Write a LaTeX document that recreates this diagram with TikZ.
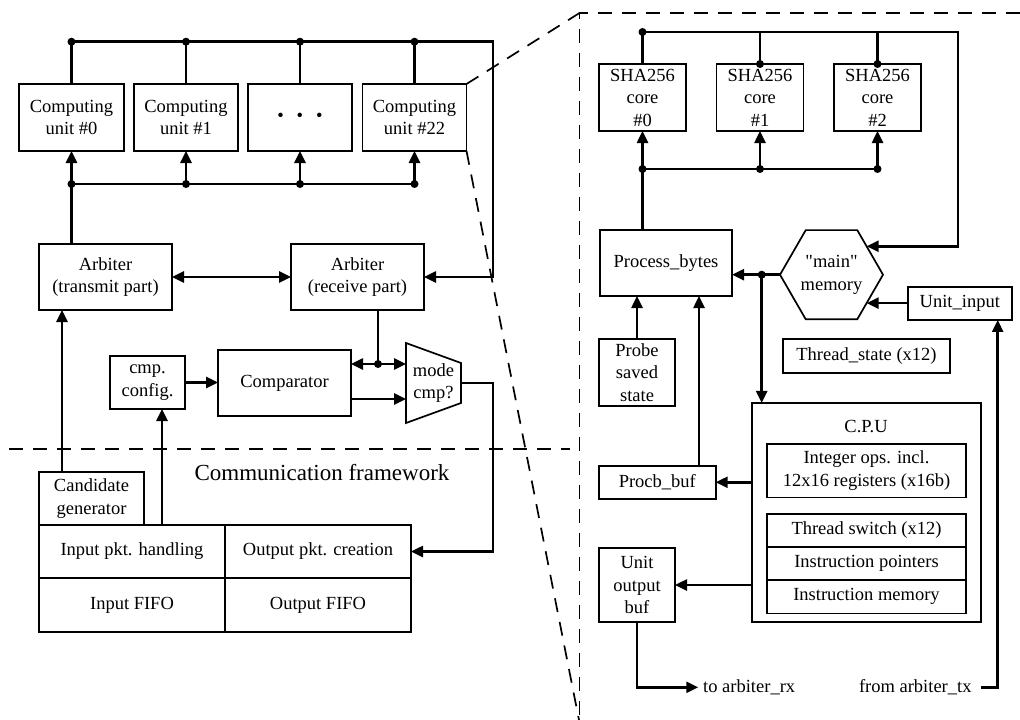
\documentclass[tikz,border=0pt]{standalone}
\usepackage{fontspec}
\setmainfont{Liberation Serif}
\usetikzlibrary{arrows.meta,shapes.geometric,calc}

\begin{document}
\begin{tikzpicture}[x=1pt,y=-1pt,
  txt/.style={font=\fontsize{18.5}{22.5}\selectfont},
  blk/.style={txt, draw, line width=1.7pt, inner sep=0pt, outer sep=0pt, align=center},
  wire/.style={line width=2.5pt},
  tip/.tip={Triangle[length=12pt,width=11pt]},
  arr/.style={wire, -tip},
  darr/.style={wire, tip-tip},
  zoomline/.style={line width=1.7pt, dash pattern=on 14pt off 10pt},
  cu/.style={blk, minimum width=104pt, minimum height=67pt},
  arb/.style={blk, minimum width=133pt, minimum height=66pt},
  sha/.style={blk, minimum width=87pt, minimum height=67pt},
  half/.style={blk, minimum width=186pt, minimum height=53.5pt},
  sub/.style={blk, minimum width=199pt, minimum height=33.3pt}
]
\useasboundingbox (0,0) rectangle (1020,720);

% ---------------- communication side ----------------
\node[cu, minimum width=105pt] (cu0) at (71.5,117.5) {Computing\\unit \#0};
\node[cu] (cu1) at (186,117.5) {Computing\\unit \#1};
\node[cu] (cu2) at (300,117.5) {\textbullet\hspace{13pt}\textbullet\hspace{13pt}\textbullet};
\node[cu] (cu3) at (414.5,117.5) {Computing\\unit \#22};

\node[arb] (arbtx) at (105.5,277) {Arbiter\\(transmit part)};
\node[arb] (arbrx) at (357.5,277) {Arbiter\\(receive part)};

\coordinate (tbus) at (0,41.7);
\coordinate (lbus) at (0,184);
\coordinate (lr) at (493,41.7);

% result bus across the top, into the receive arbiter
\draw[arr] (cu0.north |- tbus) -- (lr) -- (lr |- arbrx.east) -- (arbrx.east);
\foreach \n in {0,...,3} {
  \draw[wire] (cu\n.north |- tbus) -- (cu\n.north);
  \fill (cu\n.north |- tbus) circle (4pt);
}
% distribution bus below the units
\draw[wire] (cu0.south |- lbus) -- (cu3.south |- lbus);
\foreach \n in {0,...,3} {
  \draw[arr] (cu\n.south |- lbus) -- (cu\n.south);
  \fill (cu\n.south |- lbus) circle (4pt);
}

\draw[wire] (cu0.south |- arbtx.north) -- (cu0.south |- lbus);
\draw[darr] (arbtx.east) -- (arbrx.west);

\node[blk, minimum width=75pt, minimum height=53pt] (cmpcfg) at (147.5,382.5) {cmp.\\config.};
\node[blk, minimum width=133pt, minimum height=66pt] (cmp) at (284.5,383) {Comparator};

% mode selector (trapezoid)
\coordinate (mA) at (406,343);
\coordinate (mB) at (461,363);
\coordinate (mC) at (461,403);
\coordinate (mD) at (406,423);
\draw[line width=1.7pt] (mA) -- (mB) -- (mC) -- (mD) -- cycle;
\node[txt, align=center, inner sep=0pt] (mode) at (433.5,383) {mode\\cmp?};

\draw[arr] (cmpcfg.east) -- (cmpcfg.east -| cmp.west);
\coordinate (cj) at (378,364);
\coordinate (mj) at (406,364);
\coordinate (mk) at (406,399);
\draw[wire] (cj |- arbrx.south) -- (cj);
\draw[darr] (cmp.east |- cj) -- (mj);
\fill (cj) circle (4pt);
\draw[arr] (cmp.east |- mk) -- (mk);

\node[blk, minimum width=105pt, minimum height=53pt] (candgen) at (91.5,498.5) {Candidate\\generator};
\node[half] (inpkt) at (132,551.5) {Input pkt. handling};
\node[half] (outpkt) at (318,551.5) {Output pkt. creation};
\node[half] (infifo) at (132,605) {Input FIFO};
\node[half] (outfifo) at (318,605) {Output FIFO};

\coordinate (cgx) at (62,0);
\coordinate (icx) at (162,0);
\draw[arr] (cgx |- candgen.north) -- (cgx |- arbtx.south);
\draw[arr] (icx |- inpkt.north) -- (icx |- cmpcfg.south);

\coordinate (mo) at (461,383);
\coordinate (rr) at (493,383);
\draw[arr] (mo) -- (rr) -- (rr |- outpkt.east) -- (outpkt.east);

\node[font=\fontsize{23}{27}\selectfont, anchor=base, inner sep=0pt] (cf) at (322,480) {Communication framework};

% ---------------- computing unit detail ----------------
\coordinate (pc) at (579.5,13);
\draw[zoomline] (9,449) -- (570,449);
\draw[zoomline] (cu3.north east) -- (pc);
\draw[zoomline] (1020,13) -- (pc) -- (579.5,720);
\draw[zoomline] (cu3.south east) -- (579,720);

\node[sha] (sha0) at (642.5,97.5) {SHA256\\core\\\#0};
\node[sha] (sha1) at (760,97.5) {SHA256\\core\\\#1};
\node[sha] (sha2) at (877.5,97.5) {SHA256\\core\\\#2};

\node[blk, minimum width=132pt, minimum height=66pt] (pbytes) at (666,263) {Process\_bytes};
\node[txt, draw, line width=1.7pt, regular polygon, regular polygon sides=6,
      minimum size=103pt, inner sep=0pt, outer sep=0pt, align=center] (mem) at (831.5,274.7)
      {\textquotedbl main\textquotedbl\\memory};
\node[blk, minimum width=104.3pt, minimum height=33.3pt] (uin) at (959.8,303.3) {Unit\_input};
\node[blk, minimum width=76pt, minimum height=66.7pt] (probe) at (637,372.3) {Probe\\saved\\state};
\node[blk, minimum width=167pt, minimum height=33.7pt] (tstate) at (866.5,355.8) {Thread\_state (x12)};

\node[blk, minimum width=228.7pt, minimum height=218.7pt] (cpu) at (866.3,512.3) {};
\node[txt, inner sep=0pt] (cpul) at (866,426.7) {C.P.U};
\node[sub, minimum height=53.3pt] (intops) at (866.5,470.7) {Integer ops. incl.\\12x16 registers (x16b)};
\node[sub, minimum height=32.7pt] (tsw) at (866.5,530.3) {Thread switch (x12)};
\node[sub] (iptr) at (866.5,563.3) {Instruction pointers};
\node[sub] (imem) at (866.5,596.7) {Instruction memory};

\node[blk, minimum width=116.7pt, minimum height=33.3pt] (procb) at (657.3,482.3) {Procb\_buf};
\node[blk, minimum width=76pt, minimum height=73.4pt] (uob) at (637,585) {Unit\\output\\buf};

\node[txt, anchor=west, inner sep=0pt] (torx) at (703,687.3) {to arbiter\_rx};
\node[txt, anchor=east, inner sep=0pt] (fromtx) at (971.7,687.3) {from arbiter\_tx};

% buses of the hash cores
\coordinate (rtb) at (0,32);
\coordinate (rlb) at (0,169);
\coordinate (rc) at (958,32);
\draw[arr] (sha0.north |- rtb) -- (rc) -- (rc |- mem.39) -- (mem.39);
\fill (sha0.north |- rtb) circle (4pt);
\draw[wire] (sha0.north |- rtb) -- (sha0.north);
\foreach \n in {1,2} {
  \draw[wire] (sha\n.north |- rtb) -- (sha\n.north);
  \fill (sha\n.north) circle (4pt);
}
\draw[wire] (sha0.south |- rlb) -- (sha2.south |- rlb);
\foreach \n in {0,1,2} {
  \draw[arr] (sha\n.south |- rlb) -- (sha\n.south);
  \fill (sha\n.south |- rlb) circle (4pt);
}
\draw[wire] (sha0.south |- pbytes.north) -- (sha0.south |- rlb);

% memory and data paths
\coordinate (mx) at (761.7,0);
\draw[arr] (mem.180) -- (mem.180 -| pbytes.east);
\draw[arr] (mx |- mem.180) -- (mx |- cpu.north);
\fill (mx |- mem.180) circle (4pt);
\draw[arr] (uin.west |- mem.-39) -- (mem.-39);

\coordinate (px) at (699,0);
\draw[arr] (probe.north) -- (probe.north |- pbytes.south);
\draw[arr] (px |- procb.north) -- (px |- pbytes.south);
\draw[arr] (procb.east -| cpu.west) -- (procb.east);
\draw[arr] (uob.east -| cpu.west) -- (uob.east);

\coordinate (ux) at (997.7,0);
\draw[arr] (uob.south) -- (uob.south |- torx.west) -- ([xshift=-4.7pt]torx.west);
\draw[arr] ([xshift=9.3pt]fromtx.east) -- (ux |- fromtx.east) -- (ux |- uin.south);
\end{tikzpicture}
\end{document}
